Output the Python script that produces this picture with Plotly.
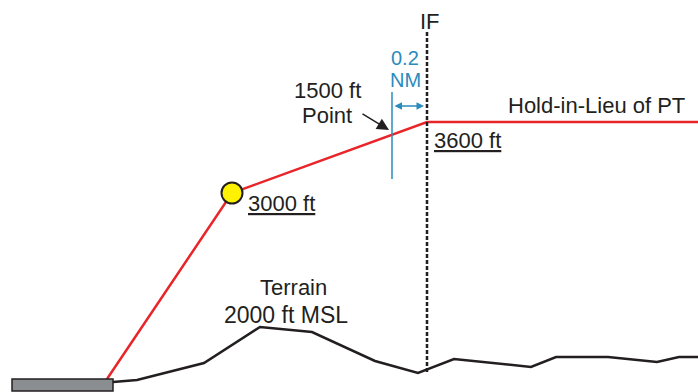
import plotly.graph_objects as go

# Diagram coordinates: x = horizontal position, y = height above image bottom (diagram units)
profile_x = [107, 232, 427, 698]
profile_y = [13, 199, 270, 270]

fix_x = [232]
fix_y = [199]

terrain_x = [113, 137, 204, 260, 312, 375, 418, 454, 531, 556, 608, 657, 679, 698]
terrain_y = [10, 12, 29, 65, 60, 31, 19, 33, 25, 35, 35, 30, 35, 35]

runway_x = [12, 113]
runway_y = [1, 13]

if_x = 427
if_y = [20, 360]

point_x = 392
point_y = [213, 300]

labels = {
    "if": "IF",
    "dist": "0.2",
    "unit": "NM",
    "pt1": "1500 ft",
    "pt2": "Point",
    "alt1": "<u>3000 ft</u>",
    "alt2": "<u>3600 ft</u>",
    "hold": "Hold-in-Lieu of PT",
    "ter1": "Terrain",
    "ter2": "2000 ft MSL",
}

TXT = "#231f20"
RED = "#e8262a"
BLUE = "#2b8bbd"
FONT = "Liberation Sans, Arial, sans-serif"

fig = go.Figure()

fig.add_trace(go.Scatter(x=terrain_x, y=terrain_y, mode="lines",
                         line=dict(color=TXT, width=2.5), hoverinfo="skip"))
fig.add_trace(go.Scatter(x=profile_x, y=profile_y, mode="lines",
                         line=dict(color=RED, width=2.5), hoverinfo="skip"))
fig.add_trace(go.Scatter(x=fix_x, y=fix_y, mode="markers",
                         marker=dict(size=21, color="#fff200", line=dict(color=TXT, width=2)),
                         hoverinfo="skip"))

# runway
fig.add_shape(type="rect", x0=runway_x[0], x1=runway_x[1], y0=runway_y[0], y1=runway_y[1],
              fillcolor="#8b8e90", line=dict(color=TXT, width=1.5))
# IF dashed line
fig.add_shape(type="line", x0=if_x, x1=if_x, y0=if_y[0], y1=if_y[1],
              line=dict(color=TXT, width=2.5, dash="4px,2px"))
# 1500 ft point line
fig.add_shape(type="line", x0=point_x, x1=point_x, y0=point_y[0], y1=point_y[1],
              line=dict(color=BLUE, width=1.5))

def txt(x, y, s, anchor="center", color=TXT, size=22):
    fig.add_annotation(x=x, y=y, text=s, showarrow=False, xanchor=anchor, yanchor="middle",
                       font=dict(family=FONT, size=size, color=color))

txt(430, 371, labels["if"])
txt(405, 334, labels["dist"], color=BLUE, size=20)
txt(405, 312, labels["unit"], color=BLUE, size=20)
txt(327, 302, labels["pt1"])
txt(327, 277, labels["pt2"])
txt(246, 189, labels["alt1"], anchor="left")
txt(432, 252, labels["alt2"], anchor="left")
txt(506, 287, labels["hold"], anchor="left")
txt(293, 105, labels["ter1"])
txt(286, 77, labels["ter2"], size=23)

# pointer arrow to 1500 ft point
fig.add_annotation(x=389, y=262, ax=361, ay=279, xref="x", yref="y", axref="x", ayref="y",
                   text="", showarrow=True, arrowhead=2, arrowsize=1.6, arrowwidth=1.5,
                   arrowcolor=TXT)
# 0.2 NM double arrow
fig.add_annotation(x=424, y=286, ax=393, ay=286, xref="x", yref="y", axref="x", ayref="y",
                   text="", showarrow=True, arrowhead=2, startarrowhead=2, arrowside="end+start",
                   arrowsize=1.0, startarrowsize=1.0, arrowwidth=1.5, arrowcolor=BLUE)

fig.update_layout(width=698, height=392, margin=dict(l=0, r=0, t=0, b=0),
                  plot_bgcolor="white", paper_bgcolor="white", showlegend=False)
fig.update_xaxes(range=[0, 698], visible=False, fixedrange=True)
fig.update_yaxes(range=[0, 392], visible=False, fixedrange=True)

fig.write_html("out.html", config={"displayModeBar": False, "staticPlot": True},
               post_script="document.body.style.margin='0';document.body.style.overflow='hidden';")
